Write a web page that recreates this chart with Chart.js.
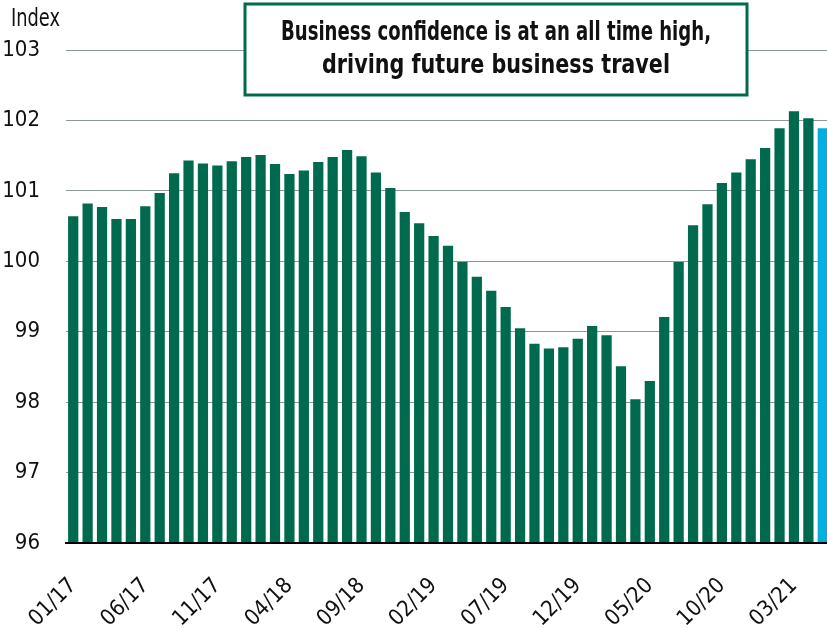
<!DOCTYPE html>
<html>
<head>
<meta charset="utf-8">
<script src="https://cdn.jsdelivr.net/npm/chart.js@4.4.1/dist/chart.umd.min.js"></script>
<style>
  html, body { margin: 0; padding: 0; background: #fff; overflow: hidden; }
  #wrap { width: 830px; height: 629px; }
</style>
</head>
<body>
<div id="wrap"><canvas id="confidenceChart" width="830" height="629"></canvas></div>
<script>
// Business confidence index, monthly 01/17 - 05/21
const months = [
  '01/17', '02/17', '03/17', '04/17', '05/17', '06/17', '07/17', '08/17', '09/17', '10/17', '11/17', '12/17',
  '01/18', '02/18', '03/18', '04/18', '05/18', '06/18', '07/18', '08/18', '09/18', '10/18', '11/18', '12/18',
  '01/19', '02/19', '03/19', '04/19', '05/19', '06/19', '07/19', '08/19', '09/19', '10/19', '11/19', '12/19',
  '01/20', '02/20', '03/20', '04/20', '05/20', '06/20', '07/20', '08/20', '09/20', '10/20', '11/20', '12/20',
  '01/21', '02/21', '03/21', '04/21', '05/21'
];

const indexValues = [
  100.64, 100.82, 100.77, 100.60, 100.60, 100.78, 100.97, 101.25, 101.43, 101.39, 101.36, 101.42,
  101.48, 101.51, 101.38, 101.24, 101.29, 101.41, 101.48, 101.58, 101.49, 101.26, 101.04, 100.70,
  100.54, 100.36, 100.22, 99.99, 99.78, 99.58, 99.35, 99.05, 98.83, 98.76, 98.78, 98.90,
  99.08, 98.95, 98.51, 98.04, 98.30, 99.21, 99.99, 100.51, 100.81, 101.11, 101.26, 101.45,
  101.61, 101.89, 102.13, 102.03, 101.89
];

const yTicks = [96, 97, 98, 99, 100, 101, 102, 103];
const titleLines = ['Business confidence is at an all time high,', 'driving future business travel'];
const yAxisLabel = 'Index';

// Colores
const COLORS = {
  green: '#006a4e',
  blue: '#00b0e0',
  grid: '#8e979a',
  text: '#111111'
};
const FONT = "'Liberation Sans Narrow', 'DejaVu Sans Condensed', sans-serif";

// ultimo mes resaltado en azul
const barColors = indexValues.map((v, i) => i === indexValues.length - 1 ? COLORS.blue : COLORS.green);

// dibuja texto comprimido horizontalmente hasta un ancho dado
function drawFitted(ctx, text, x, y, maxWidth) {
  const w = ctx.measureText(text).width;
  const sx = Math.min(1, maxWidth / w);
  ctx.save();
  ctx.translate(x, y);
  ctx.scale(sx, 1);
  ctx.fillText(text, 0, 0);
  ctx.restore();
}

// Caja de titulo y etiqueta "Index"
const annotationPlugin = {
  id: 'annotations',
  afterDraw(chart) {
    const ctx = chart.ctx;
    ctx.save();
    // etiqueta del eje
    ctx.fillStyle = COLORS.text;
    ctx.font = `25px ${FONT}`;
    ctx.textAlign = 'left';
    ctx.textBaseline = 'alphabetic';
    drawFitted(ctx, yAxisLabel, 11, 26, 49);

    // caja del titulo
    const box = { x: 245, y: 4, w: 502, h: 91 };
    ctx.fillStyle = '#fff';
    ctx.fillRect(box.x, box.y, box.w, box.h);
    ctx.strokeStyle = COLORS.green;
    ctx.lineWidth = 3;
    ctx.strokeRect(box.x, box.y, box.w, box.h);

    ctx.fillStyle = COLORS.text;
    ctx.font = `bold 26px ${FONT}`;
    ctx.textAlign = 'center';
    const cx = box.x + box.w / 2;
    drawFitted(ctx, titleLines[0], cx, 40, 430);
    drawFitted(ctx, titleLines[1], cx, 73, 348);
    ctx.restore();
  }
};

const ctx = document.getElementById('confidenceChart').getContext('2d');

new Chart(ctx, {
  type: 'bar',
  data: {
    labels: months,
    datasets: [{
      data: indexValues,
      backgroundColor: barColors,
      borderWidth: 0,
      barPercentage: 0.71,
      categoryPercentage: 1.0
    }]
  },
  options: {
    responsive: false,
    animation: false,
    layout: { padding: { top: 50, left: 0, right: 0, bottom: 0 } },
    plugins: {
      legend: { display: false },
      tooltip: { enabled: false }
    },
    scales: {
      x: {
        grid: { display: false },
        border: { display: true, color: '#000', width: 2, z: 1 },
        afterFit: scale => {
          scale.height = 86;
          scale.paddingLeft = 0;
          scale.paddingRight = 0;
        },
        ticks: {
          autoSkip: false,
          maxRotation: 45,
          minRotation: 45,
          padding: 22,
          color: COLORS.text,
          font: { family: FONT, size: 22 },
          callback: function (value, index) {
            return index % 5 === 0 ? months[index] : null;
          }
        }
      },
      y: {
        min: 96,
        max: 103,
        afterFit: scale => { scale.width = 66; },
        afterBuildTicks: scale => { scale.ticks = yTicks.map(v => ({ value: v })); },
        border: { display: false },
        grid: { color: COLORS.grid, lineWidth: 1, drawTicks: false },
        ticks: {
          padding: 26,
          color: COLORS.text,
          font: { family: FONT, size: 22 }
        }
      }
    }
  },
  plugins: [annotationPlugin]
});
</script>
</body>
</html>
